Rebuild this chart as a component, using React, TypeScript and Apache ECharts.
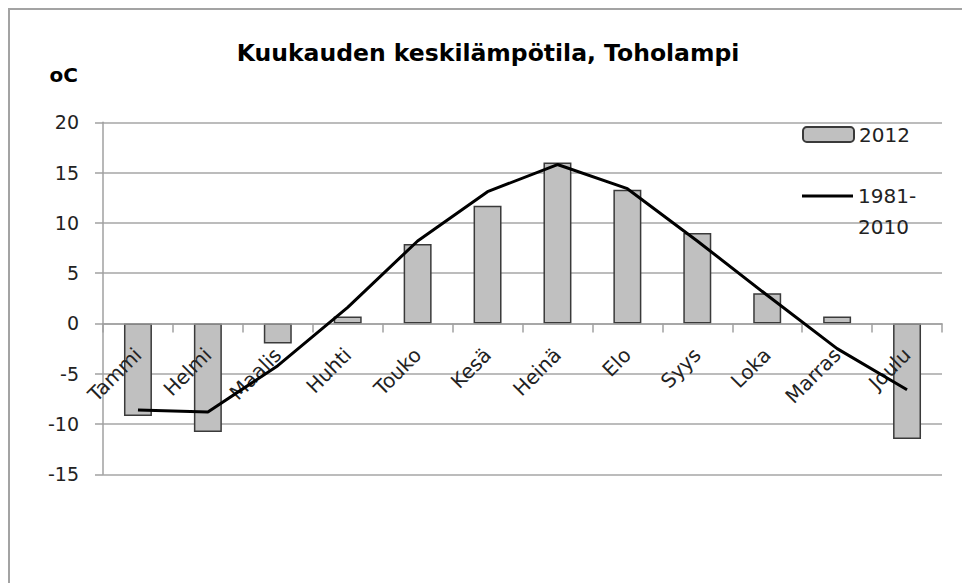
import React, { useEffect, useRef } from "react";
import * as echarts from "echarts";

const FONT = '"DejaVu Sans", sans-serif';

const months = ["Tammi", "Helmi", "Maalis", "Huhti", "Touko", "Kesä", "Heinä", "Elo", "Syys", "Loka", "Marras", "Joulu"];
const temp2012 = [-9.2, -10.8, -2.0, 0.7, 7.9, 11.7, 16.0, 13.3, 9.0, 3.0, 0.7, -11.5];
const normal19812010 = [-8.6, -8.8, -4.2, 1.6, 8.2, 13.1, 15.8, 13.4, 8.2, 2.8, -2.5, -6.6];
const yMin = -15;
const yMax = 20;
const yStep = 5;
const seriesNames = ["2012", "1981-2010"];
const titleText = "Kuukauden keskilämpötila, Toholampi";
const unitText = "oC";

const GRID_TOP = 122.3;
const GRID_BOTTOM_Y = 474.3;

export default function App() {
  const ref = useRef<HTMLDivElement>(null);
  useEffect(() => {
    const chart = echarts.init(ref.current as HTMLDivElement, null, { renderer: "svg" });
    const axisGray = "#a0a0a0";
    // distance from the grid bottom up to the value 0
    const zeroOffset = -((GRID_BOTTOM_Y - GRID_TOP) * (0 - yMin)) / (yMax - yMin);
    chart.setOption({
      animation: false,
      backgroundColor: "#ffffff",
      textStyle: { fontFamily: FONT },
      graphic: [
        {
          type: "rect",
          silent: true,
          shape: { x: 9, y: 9, width: 1400, height: 1400 },
          style: { fill: "none", stroke: "#a3a3a3", lineWidth: 2 },
        },
        {
          type: "text",
          x: 488,
          y: 53,
          silent: true,
          style: {
            text: titleText,
            fontFamily: FONT,
            fontSize: 23.5,
            fontWeight: "bold",
            fill: "#000",
            textAlign: "center",
            textVerticalAlign: "middle",
            align: "center",
            verticalAlign: "middle",
          },
        },
      ],
      grid: { left: 103, right: 20, top: GRID_TOP, bottom: 583 - GRID_BOTTOM_Y, containLabel: false },
      legend: [
        {
          data: [seriesNames[0]],
          orient: "vertical",
          left: 802,
          top: 122.5,
          padding: 0,
          itemWidth: 51,
          itemHeight: 15,
          itemGap: 0,
          selectedMode: false,
          textStyle: { fontFamily: FONT, fontSize: 20, color: "#222", lineHeight: 24 },
        },
        {
          data: [seriesNames[1]],
          orient: "vertical",
          left: 802,
          top: 195 - 45.5,
          padding: 0,
          itemWidth: 51,
          itemHeight: 3,
          itemGap: 0,
          icon: "rect",
          selectedMode: false,
          formatter: (name: string) => " \n" + name.replace("-", "-\n"),
          textStyle: { fontFamily: FONT, fontSize: 20, color: "#222", lineHeight: 31 },
        },
      ],
      xAxis: {
        type: "category",
        data: months,
        position: "bottom",
        offset: zeroOffset,
        z: 10,
        axisLine: { onZero: false, lineStyle: { color: axisGray, width: 1.5 } },
        axisTick: { show: true, length: 9, lineStyle: { color: axisGray, width: 1.5 } },
        axisLabel: { rotate: 45, interval: 0, margin: 28, fontSize: 20, color: "#222", fontFamily: FONT },
        splitLine: { show: false },
      },
      yAxis: {
        type: "value",
        min: yMin,
        max: yMax,
        interval: yStep,
        name: unitText,
        nameLocation: "end",
        nameGap: 47,
        nameTextStyle: {
          fontFamily: FONT,
          fontSize: 20,
          fontWeight: "bold",
          color: "#000",
          align: "right",
          verticalAlign: "middle",
          padding: [0, 25, 0, 0],
        },
        axisLine: { show: true, lineStyle: { color: axisGray, width: 1.5 } },
        axisTick: { show: true, length: 8, lineStyle: { color: axisGray, width: 1.5 } },
        axisLabel: { margin: 24, fontSize: 19, color: "#222", fontFamily: FONT },
        splitLine: { show: true, lineStyle: { color: "#a6a6a6", width: 1.5 } },
      },
      series: [
        {
          name: seriesNames[0],
          type: "bar",
          data: temp2012,
          barWidth: "40%",
          itemStyle: { color: "#c0c0c0", borderColor: "#3a3a3a", borderWidth: 1.5 },
          z: 2,
        },
        {
          name: seriesNames[1],
          type: "line",
          data: normal19812010,
          symbol: "none",
          lineStyle: { color: "#000", width: 3 },
          itemStyle: { color: "#000" },
          z: 12,
        },
      ],
    });
    return () => chart.dispose();
  }, []);
  return (
    <div
      ref={ref}
      style={{ position: "absolute", left: 0, top: 0, width: 962, height: 583, background: "#fff" }}
    />
  );
}
